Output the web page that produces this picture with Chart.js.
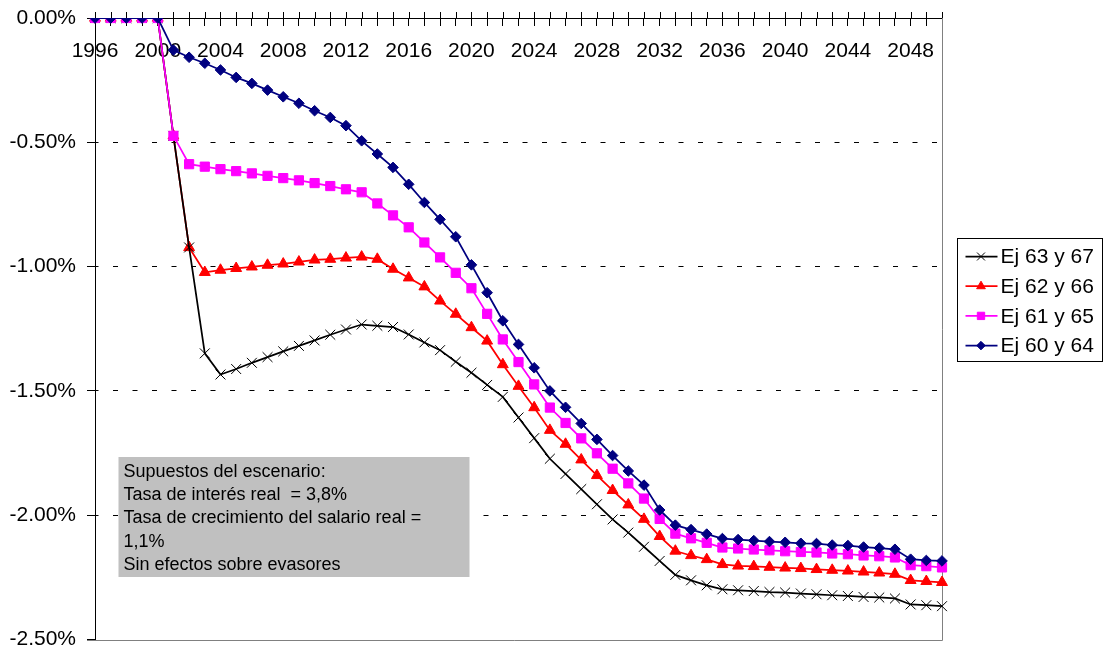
<!DOCTYPE html>
<html>
<head>
<meta charset="utf-8">
<title>Ej 60-63</title>
<script src="https://cdn.jsdelivr.net/npm/chart.js"></script>
<style>
  html, body { margin: 0; padding: 0; background: #ffffff; }
  #wrap { width: 1105px; height: 650px; position: relative; }
</style>
</head>
<body>
<div id="wrap"><canvas id="chart" width="1105" height="650"></canvas></div>
<script>
// Years on the horizontal axis
const years = ['1996','1997','1998','1999','2000','2001','2002','2003','2004','2005',
  '2006','2007','2008','2009','2010','2011','2012','2013','2014','2015',
  '2016','2017','2018','2019','2020','2021','2022','2023','2024','2025',
  '2026','2027','2028','2029','2030','2031','2032','2033','2034','2035',
  '2036','2037','2038','2039','2040','2041','2042','2043','2044','2045',
  '2046','2047','2048','2049','2050'];

// Series values, in percent
const ej63y67 = [0, 0, 0, 0, 0,
  -0.474, -0.923, -1.349, -1.434, -1.412, -1.387, -1.364, -1.341, -1.319, -1.297,
  -1.274, -1.253, -1.233, -1.238, -1.243, -1.273, -1.305, -1.336, -1.383, -1.427,
  -1.476, -1.524, -1.607, -1.690, -1.773, -1.834, -1.895, -1.956, -2.017, -2.070,
  -2.127, -2.184, -2.240, -2.262, -2.282, -2.298, -2.302, -2.305, -2.309, -2.311,
  -2.315, -2.318, -2.322, -2.325, -2.329, -2.331, -2.335, -2.359, -2.362, -2.366];

const ej62y66 = [0, 0, 0, 0, 0,
  -0.474, -0.923, -1.023, -1.014, -1.007, -1.001, -0.994, -0.989, -0.981, -0.973,
  -0.970, -0.965, -0.961, -0.970, -1.010, -1.045, -1.081, -1.138, -1.191, -1.245,
  -1.299, -1.394, -1.481, -1.567, -1.658, -1.714, -1.777, -1.840, -1.900, -1.958,
  -2.016, -2.085, -2.144, -2.162, -2.178, -2.198, -2.204, -2.206, -2.209, -2.212,
  -2.214, -2.218, -2.221, -2.224, -2.228, -2.232, -2.237, -2.262, -2.266, -2.270];

const ej61y65 = [0, 0, 0, 0, 0,
  -0.474, -0.588, -0.598, -0.608, -0.616, -0.625, -0.635, -0.644, -0.653, -0.664,
  -0.676, -0.689, -0.701, -0.746, -0.794, -0.842, -0.903, -0.963, -1.025, -1.087,
  -1.190, -1.293, -1.384, -1.474, -1.567, -1.629, -1.691, -1.751, -1.813, -1.872,
  -1.933, -2.015, -2.074, -2.093, -2.111, -2.130, -2.134, -2.138, -2.141, -2.145,
  -2.148, -2.150, -2.154, -2.157, -2.162, -2.165, -2.170, -2.201, -2.205, -2.210];

const ej60y64 = [0, 0, 0, 0, 0,
  -0.129, -0.158, -0.182, -0.209, -0.239, -0.263, -0.290, -0.317, -0.343, -0.373,
  -0.400, -0.433, -0.494, -0.547, -0.601, -0.669, -0.742, -0.810, -0.880, -0.993,
  -1.105, -1.218, -1.313, -1.407, -1.500, -1.566, -1.631, -1.695, -1.760, -1.822,
  -1.879, -1.979, -2.040, -2.058, -2.076, -2.094, -2.098, -2.102, -2.106, -2.109,
  -2.113, -2.114, -2.120, -2.122, -2.128, -2.132, -2.137, -2.177, -2.182, -2.184];

const seriesNames = ['Ej 63 y 67', 'Ej 62 y 66', 'Ej 61 y 65', 'Ej 60 y 64'];

// Value axis range and step (percent)
const yMin = -2.5;
const yMax = 0;
const yStep = 0.5;
// Every fourth year carries a label
const labelEvery = 4;

// Text box with the scenario assumptions
const noteLines = [
  'Supuestos del escenario:',
  'Tasa de interés real  = 3,8%',
  'Tasa de crecimiento del salario real =',
  '1,1%',
  'Sin efectos sobre evasores'
];

const FONT = "'Liberation Sans', Arial, Helvetica, sans-serif";

function px(v) { return Math.round(v) + 0.5; }

// Plot-area frame, upper half of the year ticks and the note box
const backdrop = {
  id: 'backdrop',
  beforeDatasetsDraw(chart) {
    const { ctx, chartArea: a } = chart;
    const xs = chart.scales.x;
    ctx.save();
    // grey frame on the right and bottom of the plot area
    ctx.strokeStyle = '#808080';
    ctx.lineWidth = 1;
    ctx.beginPath();
    ctx.moveTo(a.left - 8, px(a.bottom));
    ctx.lineTo(px(a.right), px(a.bottom));
    ctx.lineTo(px(a.right), a.top);
    ctx.stroke();
    // tick marks cross the category axis
    ctx.strokeStyle = '#000000';
    ctx.beginPath();
    for (let i = 0; i < xs.ticks.length; i++) {
      const x = px(xs.getPixelForTick(i));
      ctx.moveTo(x, a.top - 6);
      ctx.lineTo(x, a.top);
    }
    ctx.stroke();
    // note box
    const bx = a.left + 23.5, by = a.top + 439, bw = 351, bh = 120;
    ctx.fillStyle = '#c0c0c0';
    ctx.fillRect(bx, by, bw, bh);
    ctx.fillStyle = '#000000';
    ctx.font = '18px ' + FONT;
    ctx.textAlign = 'left';
    ctx.textBaseline = 'alphabetic';
    noteLines.forEach((t, i) => ctx.fillText(t, bx + 5, by + 20 + i * 23.2));
    ctx.restore();
  }
};

// Boxed legend with line-and-marker samples
const boxedLegend = {
  id: 'boxedLegend',
  afterDraw(chart) {
    const { ctx } = chart;
    const lx = 957.5, ly = 238.5, lw = 145, lh = 123;
    ctx.save();
    ctx.strokeStyle = '#000000';
    ctx.lineWidth = 1;
    ctx.strokeRect(lx, ly, lw, lh);
    ctx.font = '21px ' + FONT;
    ctx.textAlign = 'left';
    ctx.textBaseline = 'middle';
    chart.data.datasets.forEach((ds, i) => {
      const y = ly + 18 + i * 29.7;
      ctx.strokeStyle = ds.borderColor;
      ctx.lineWidth = ds.borderWidth;
      ctx.beginPath();
      ctx.moveTo(lx + 8, y);
      ctx.lineTo(lx + 40, y);
      ctx.stroke();
      ctx.fillStyle = ds.pointBackgroundColor;
      ctx.strokeStyle = ds.pointBorderColor;
      ctx.lineWidth = ds.pointBorderWidth;
      Chart.helpers.drawPoint(ctx, {
        pointStyle: ds.pointStyle,
        radius: ds.pointRadius * 0.8,
        borderWidth: ds.pointBorderWidth,
        rotation: 0
      }, lx + 23.5, y);
      ctx.fillStyle = '#000000';
      ctx.fillText(ds.label, lx + 43, y + 1);
    });
    ctx.restore();
  }
};

function series(label, data, color, style, radius, order) {
  return {
    label: label,
    data: data,
    borderColor: color,
    backgroundColor: color,
    borderWidth: 1.75,
    pointStyle: style,
    pointRadius: radius,
    pointHoverRadius: radius,
    pointBackgroundColor: color,
    pointBorderColor: color,
    pointBorderWidth: 1,
    tension: 0,
    fill: false,
    order: order
  };
}

new Chart(document.getElementById('chart'), {
  type: 'line',
  data: {
    labels: years,
    datasets: [
      series(seriesNames[0], ej63y67, '#000000', 'crossRot', 7, 2),
      series(seriesNames[1], ej62y66, '#ff0000', 'triangle', 6.3, 3),
      series(seriesNames[2], ej61y65, '#ff00ff', 'rect', 6.5, 1),
      series(seriesNames[3], ej60y64, '#000080', 'rectRot', 5.3, 0)
    ]
  },
  options: {
    responsive: false,
    animation: false,
    events: [],
    layout: { padding: { left: 0, top: 18, right: 163, bottom: 10.5 } },
    plugins: {
      legend: { display: false },
      tooltip: { enabled: false },
      title: { display: false }
    },
    scales: {
      x: {
        type: 'category',
        position: { y: 0 },
        offset: false,
        border: { display: true, color: '#000000', width: 1 },
        grid: {
          drawOnChartArea: false,
          drawTicks: true,
          tickLength: 7,
          tickColor: '#000000',
          tickWidth: 1
        },
        ticks: {
          autoSkip: false,
          maxRotation: 0,
          minRotation: 0,
          padding: 14,
          color: '#000000',
          font: { family: FONT, size: 21 },
          callback: function (value, index) {
            return index % labelEvery === 0 ? this.getLabelForValue(value) : '';
          }
        }
      },
      y: {
        type: 'linear',
        position: 'left',
        min: yMin,
        max: yMax,
        afterFit: (scale) => {
          scale.width = 95;
          scale.paddingTop = 0;
          scale.paddingBottom = 0;
        },
        border: { display: true, color: '#000000', width: 1, dash: [5, 14.5], dashOffset: 2.5 },
        grid: {
          color: (c) => (c.tick && (c.tick.value === yMin || c.tick.value === yMax)) ? 'rgba(0,0,0,0)' : '#000000',
          lineWidth: 1,
          drawTicks: true,
          tickLength: 8,
          tickColor: '#000000',
          tickWidth: 1
        },
        ticks: {
          stepSize: yStep,
          padding: 11,
          color: '#000000',
          font: { family: FONT, size: 21, lineHeight: 0.8 },
          callback: (v) => v.toFixed(2) + '%'
        }
      }
    }
  },
  plugins: [backdrop, boxedLegend]
});
</script>
</body>
</html>
